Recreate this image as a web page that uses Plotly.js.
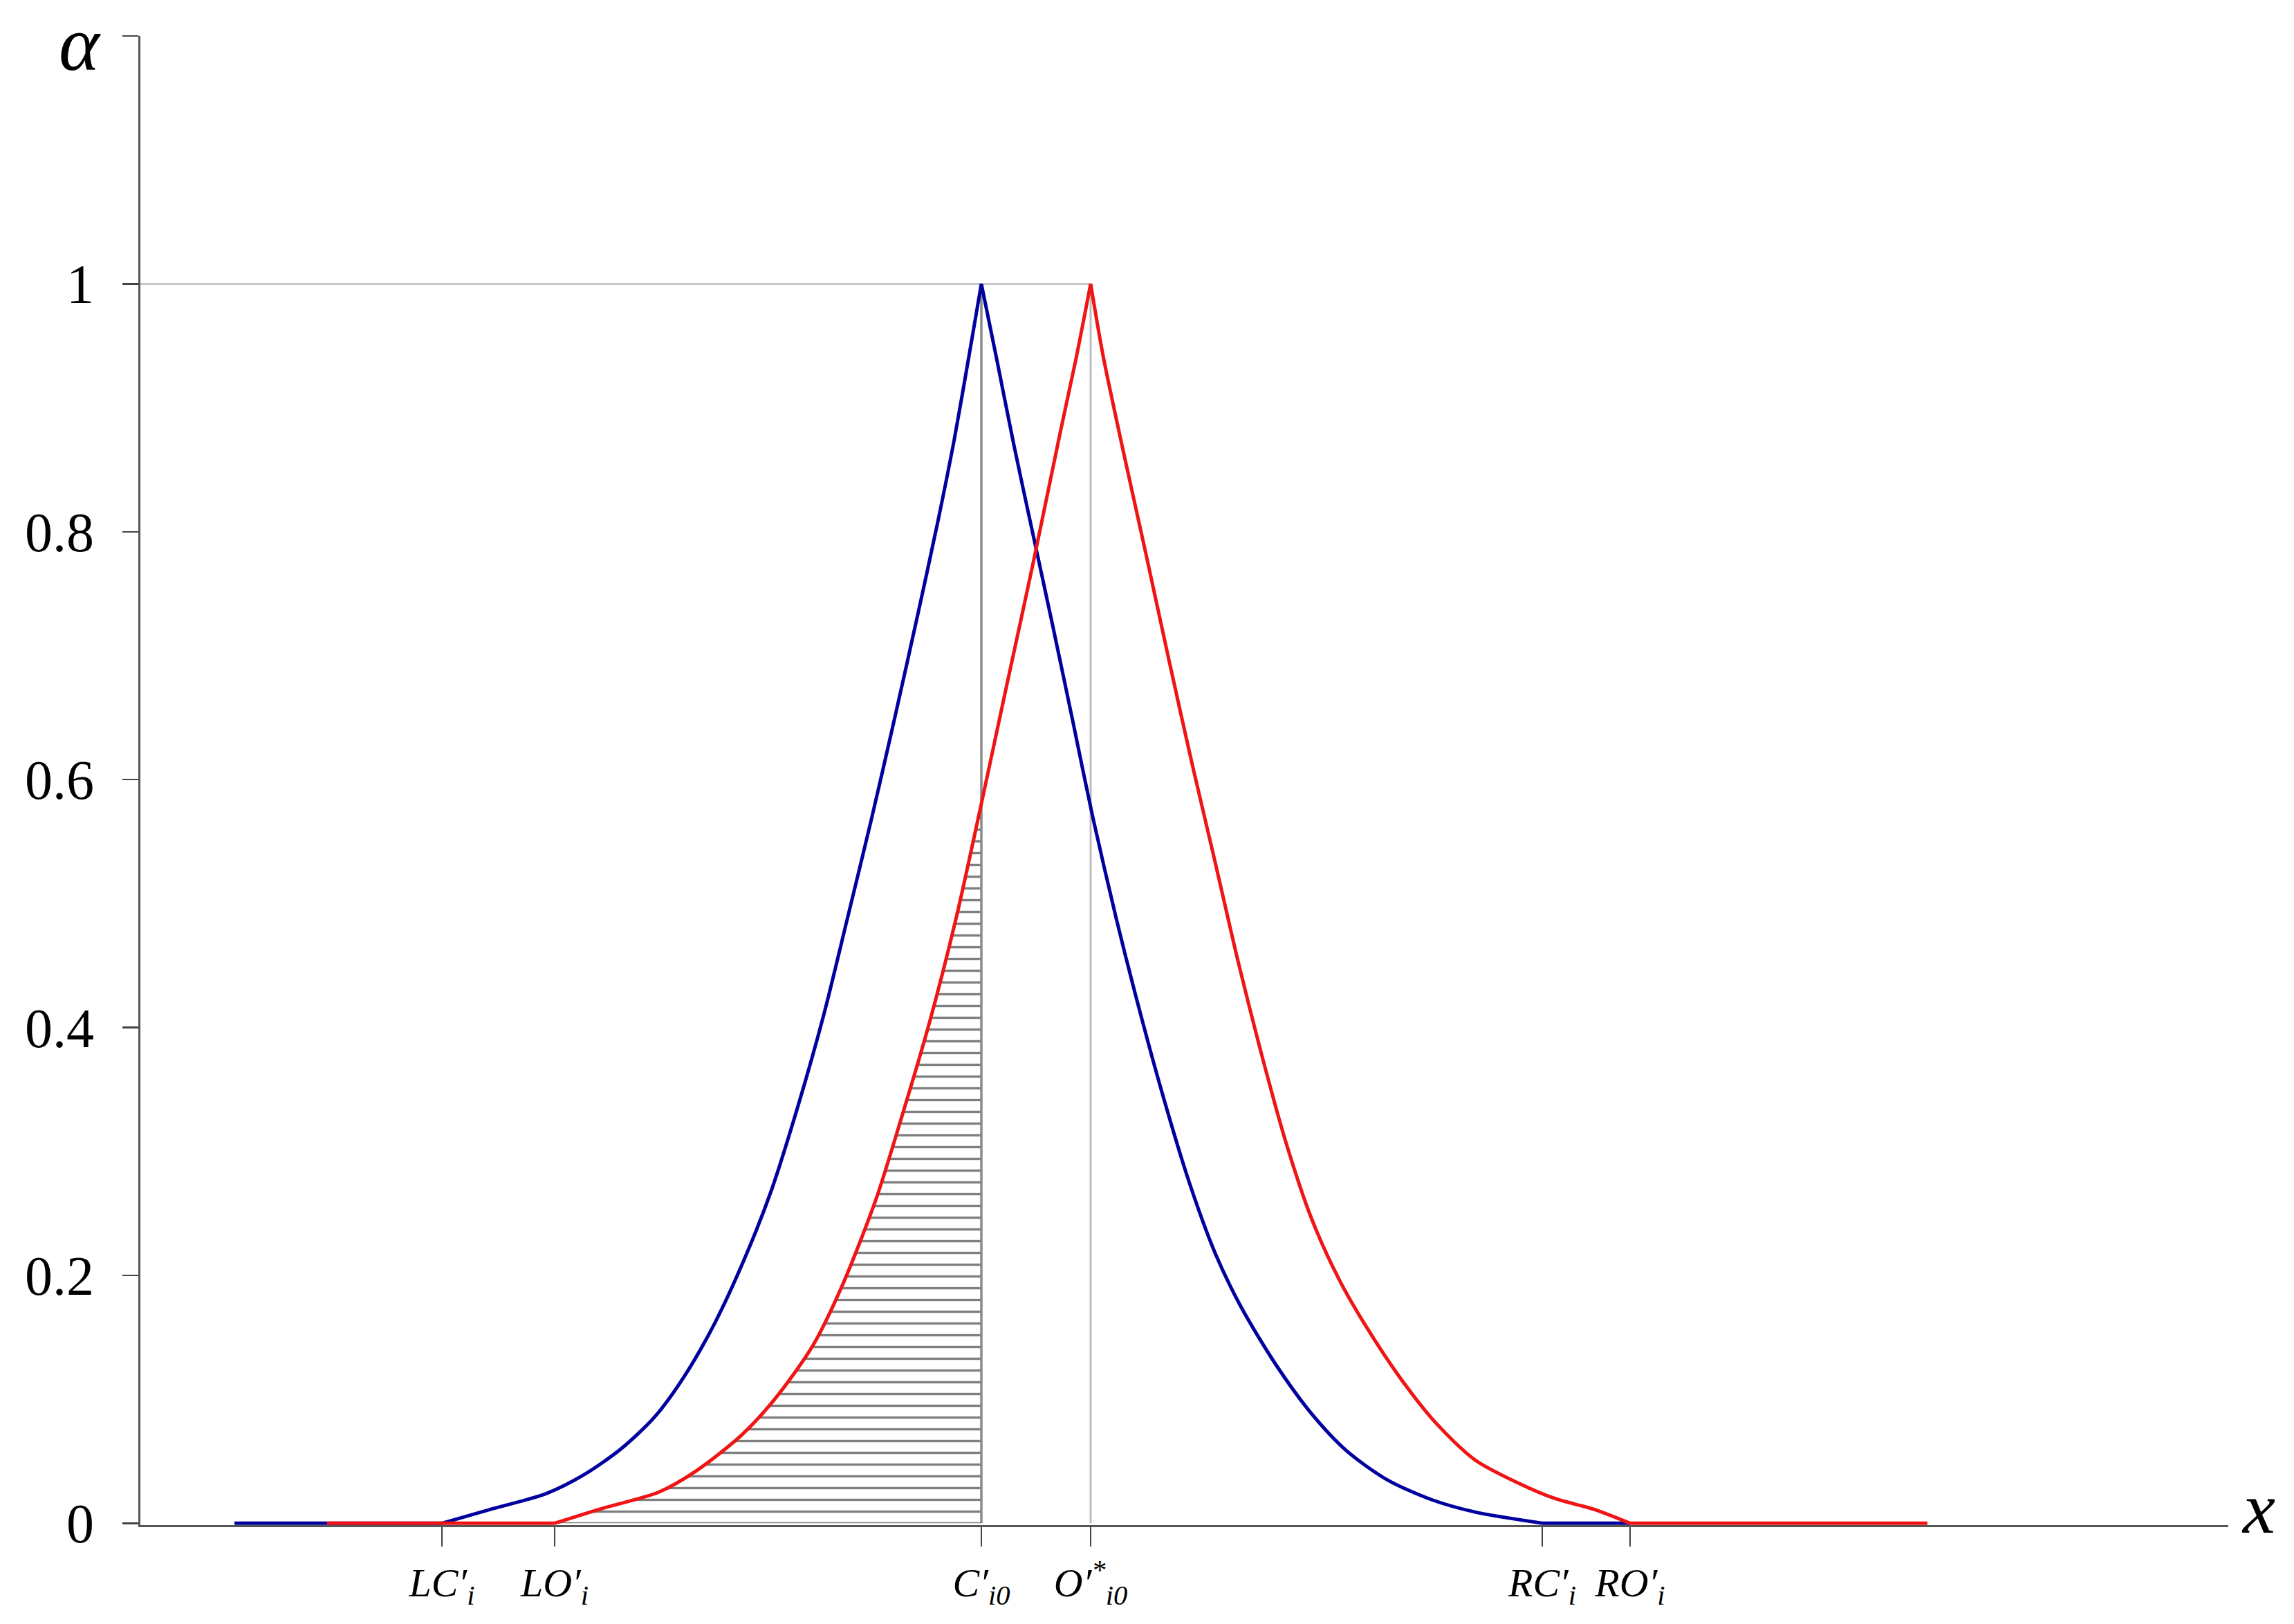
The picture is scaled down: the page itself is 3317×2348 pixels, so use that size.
<!DOCTYPE html>
<html>
<head>
<meta charset="utf-8">
<script src="https://cdn.plot.ly/plotly-3.0.1.min.js"></script>
<style>html,body{margin:0;padding:0;background:#fff;}#chart{width:3317px;height:2348px;}</style>
</head>
<body>
<div id="chart"></div>
<script>
// ---- data ----
const blueX = [1.36, 4.36, 5.05, 5.87, 6.41, 6.95, 7.44, 7.87, 8.31, 8.74, 9.12, 9.50, 9.88, 10.21, 10.57, 10.90, 11.24, 11.53, 11.77, 12.00, 12.16,
               12.39, 12.63, 12.91, 13.20, 13.49, 13.77, 14.11, 14.39, 14.78, 15.16, 15.54, 15.92, 16.43, 16.94, 17.45, 18.03, 18.67, 19.30, 20.27, 21.54];
const blueY = [0, 0, 0.011, 0.024, 0.039, 0.060, 0.086, 0.119, 0.162, 0.214, 0.268, 0.335, 0.410, 0.485, 0.568, 0.648, 0.733, 0.808, 0.875, 0.948, 1,
               0.937, 0.870, 0.797, 0.722, 0.645, 0.570, 0.488, 0.426, 0.346, 0.276, 0.218, 0.174, 0.127, 0.088, 0.058, 0.035, 0.019, 0.009, 0, 0];

const redX = [2.70, 5.99, 6.68, 7.49, 8.03, 8.69, 9.17, 9.72, 10.15, 10.64, 11.02, 11.40, 11.79, 12.15, 12.53, 12.91, 13.30, 13.53, 13.74,
              13.92, 14.20, 14.54, 14.87, 15.21, 15.50, 15.69, 15.86, 16.18, 16.56, 16.94, 17.33, 17.71, 18.22, 18.73, 19.30, 19.94, 20.45, 21.03, 21.54, 25.84];
const redY = [0, 0, 0.012, 0.025, 0.042, 0.071, 0.100, 0.143, 0.192, 0.262, 0.330, 0.402, 0.487, 0.578, 0.677, 0.775, 0.880, 0.940, 1,
              0.942, 0.868, 0.782, 0.697, 0.612, 0.543, 0.497, 0.456, 0.385, 0.308, 0.245, 0.197, 0.160, 0.117, 0.081, 0.051, 0.032, 0.020, 0.011, 0, 0];

const xTickVals = [4.36, 5.99, 12.16, 13.74, 20.27, 21.54];
const xTickText = ['<i>LC′<sub>i</sub></i>', '<i>LO′<sub>i</sub></i>', '<i>C′<sub>i0</sub></i>',
                   '<i>O′<sup>*</sup><sub>i0</sub></i>', '<i>RC′<sub>i</sub></i>', '<i>RO′<sub>i</sub></i>'];
const yTickVals = [0, 0.2, 0.4, 0.6, 0.8, 1, 1.2];
const yTickText = ['0', '0.2', '0.4', '0.6', '0.8', '1', ''];

const cPeak = xTickVals[2];   // C'_i0
const oPeak = xTickVals[3];   // O'*_i0
const loStart = xTickVals[1]; // LO'_i

// split a curve into flat (linear) tails and smoothed flanks, keeping the apex sharp
function pieces(xs, ys) {
  let p = 0;
  for (let i = 1; i < ys.length; i++) if (ys[i] > ys[p]) p = i;
  let a = 0; while (ys[a + 1] === 0) a++;
  let b = ys.length - 1; while (ys[b - 1] === 0) b--;
  const out = [];
  if (a > 0) out.push([xs.slice(0, a + 1), ys.slice(0, a + 1), 'linear']);
  out.push([xs.slice(a, p + 1), ys.slice(a, p + 1), 'spline']);
  out.push([xs.slice(p, b + 1), ys.slice(p, b + 1), 'spline']);
  if (b < ys.length - 1) out.push([xs.slice(b), ys.slice(b), 'linear']);
  return out;
}

// hatched region: under the red curve, between LO' and C'
const hx = [], hy = [];
for (let i = 0; i < redX.length; i++) {
  if (redX[i] >= loStart && redX[i] <= cPeak) { hx.push(redX[i]); hy.push(redY[i]); }
  if (i > 0 && redX[i - 1] < cPeak && redX[i] > cPeak) {
    const t = (cPeak - redX[i - 1]) / (redX[i] - redX[i - 1]);
    hx.push(cPeak); hy.push(redY[i - 1] + t * (redY[i] - redY[i - 1]));
  }
}
hx.push(cPeak); hy.push(0);
hx.push(loStart); hy.push(0);

const traces = [
  { x: hx, y: hy, mode: 'lines', fill: 'toself', line: { width: 0, color: 'rgba(0,0,0,0)' },
    fillcolor: 'rgba(0,0,0,0)',
    fillpattern: { shape: '-', size: 17, solidity: 0.2, fgcolor: '#000', bgcolor: 'rgba(0,0,0,0)', fillmode: 'overlay' },
    hoverinfo: 'skip', showlegend: false },
  { x: [0, oPeak], y: [1, 1], mode: 'lines', line: { color: '#c8c8c8', width: 3 }, showlegend: false },
  { x: [cPeak, cPeak], y: [0, 1], mode: 'lines', line: { color: '#8a8a8a', width: 3.5 }, showlegend: false },
  { x: [oPeak, oPeak], y: [0, 1], mode: 'lines', line: { color: '#bdbdbd', width: 3 }, showlegend: false }
];
pieces(blueX, blueY).forEach(h => traces.push({ x: h[0], y: h[1], mode: 'lines',
  line: { color: '#00009e', width: 5, shape: h[2], smoothing: 0.8 }, showlegend: false }));
pieces(redX, redY).forEach(h => traces.push({ x: h[0], y: h[1], mode: 'lines',
  line: { color: '#f01414', width: 5, shape: h[2], smoothing: 0.8 }, showlegend: false }));

const layout = {
  width: 3317, height: 2348,
  margin: { l: 203, r: 95, t: 52, b: 143 },
  paper_bgcolor: '#fff', plot_bgcolor: '#fff',
  font: { family: 'Liberation Serif, Times New Roman, serif', color: '#000' },
  showlegend: false,
  xaxis: {
    range: [0, 30.19], showgrid: false, zeroline: false,
    showline: true, linecolor: '#555', linewidth: 3,
    ticks: 'outside', ticklen: 28, tickwidth: 2.5, tickcolor: '#444',
    tickmode: 'array', tickvals: xTickVals, ticktext: xTickText,
    tickfont: { size: 58, family: 'Liberation Serif, serif' },
    ticklabelstandoff: 2
  },
  yaxis: {
    range: [-0.0015, 1.2], showgrid: false, zeroline: false,
    showline: true, linecolor: '#555', linewidth: 3,
    ticks: 'outside', ticklen: 23, tickwidth: 2.5, tickcolor: '#444',
    tickmode: 'array', tickvals: yTickVals, ticktext: yTickText,
    tickfont: { size: 80, family: 'Liberation Serif, serif' },
    ticklabelstandoff: 25
  },
  annotations: [
    { text: '<i>α</i>', xref: 'paper', yref: 'y', x: -0.029, y: 1.194, showarrow: false,
      font: { size: 112, family: 'Liberation Serif, serif' }, xanchor: 'center', yanchor: 'middle' },
    { text: '<i>x</i>', xref: 'paper', yref: 'y', x: 1.0145, y: 0.012, showarrow: false,
      font: { size: 106, family: 'Liberation Serif, serif' }, xanchor: 'center', yanchor: 'middle' }
  ]
};

Plotly.newPlot('chart', traces, layout, { staticPlot: true, displayModeBar: false });
</script>
</body>
</html>
